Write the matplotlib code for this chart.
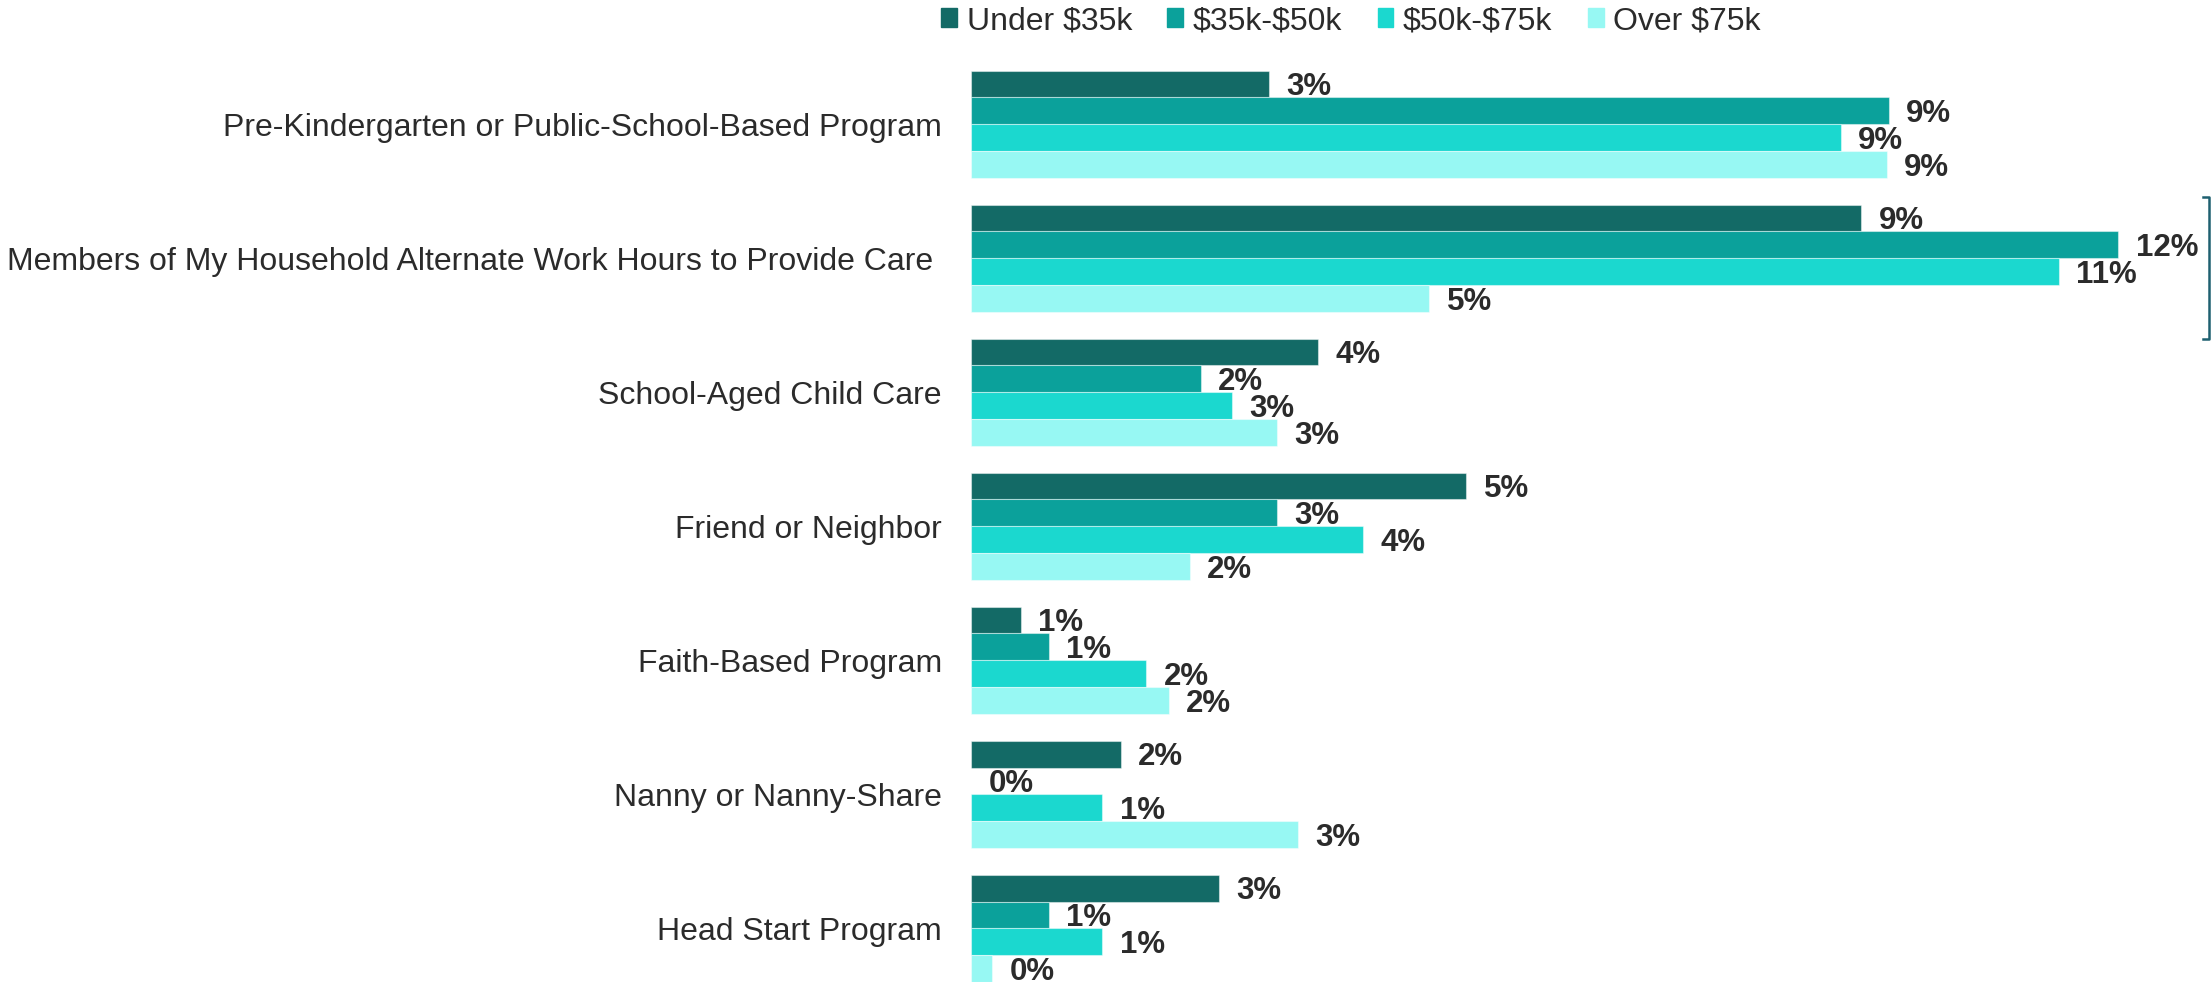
import matplotlib
matplotlib.use("Agg")
import matplotlib.pyplot as plt
from matplotlib.lines import Line2D
import numpy as np

categories = [
    "Pre-Kindergarten or Public-School-Based Program",
    "Members of My Household Alternate Work Hours to Provide Care ",
    "School-Aged Child Care",
    "Friend or Neighbor",
    "Faith-Based Program",
    "Nanny or Nanny-Share",
    "Head Start Program",
]
series_names = ["Under $35k", "$35k-$50k", "$50k-$75k", "Over $75k"]
under_35k = [3.06, 9.15, 3.57, 5.09, 0.51, 1.54, 2.55]
k35_50k = [9.43, 11.79, 2.36, 3.14, 0.80, 0.00, 0.80]
k50_75k = [8.94, 11.18, 2.68, 4.03, 1.80, 1.35, 1.35]
over_75k = [9.41, 4.71, 3.14, 2.25, 2.03, 3.36, 0.22]
series_values = [under_35k, k35_50k, k50_75k, over_75k]
colors = ["#136A66", "#0BA19B", "#1BD8CF", "#97F8F3"]

plt.rcParams['font.family'] = ['Liberation Sans', 'DejaVu Sans']
W, H = 2212, 982
fig = plt.figure(figsize=(W / 100, H / 100), dpi=100)

ax_left = 971
px_per_unit = 97.3
top_px = 70.5
ax = fig.add_axes([ax_left / W, 0, (W - ax_left) / W, (H - top_px) / H])
ax.set_xlim(0, (W - ax_left) / px_per_unit)
ax.set_ylim(6.4, -0.4)

y = np.arange(len(categories))
bh = 0.2
offsets = [-0.3, -0.1, 0.1, 0.3]
text_color = "#2B2B2B"
for vals, off, col, name in zip(series_values, offsets, colors, series_names):
    ax.barh(y + off, vals, height=bh, color=col, label=name,
            edgecolor=(1, 1, 1, 0.45), linewidth=0.8)
    for yi, v in zip(y, vals):
        ax.annotate(f"{round(v):.0f}%", xy=(v, yi + off + 0.024), xytext=(12.5, 0),
                    textcoords="offset points", va="center", ha="left",
                    fontsize=22.5, fontweight="bold", color=text_color,
                    annotation_clip=False)

ax.set_yticks(y)
ax.set_yticklabels(categories, fontsize=23, color=text_color)
ax.tick_params(axis="y", length=0, pad=21)
ax.set_xticks([])
for s in ax.spines.values():
    s.set_visible(False)

handles = [plt.Rectangle((0, 0), 1, 1, color=c) for c in colors]
legend_labels = [n.replace("$", r"\$") for n in series_names]
fig.legend(handles, legend_labels, loc="center", bbox_to_anchor=(1351 / W, 1 - 21 / H),
           ncol=4, frameon=False, fontsize=23, handlelength=0.5, handleheight=0.55,
           handletextpad=0.3, columnspacing=1.1, borderpad=0, labelcolor=text_color)

# bracket on the right edge
bc = "#1E6070"
def fx(px):
    return px / W
def fy(py):
    return 1 - py / H
fig.add_artist(Line2D([fx(2203), fx(2209), fx(2209), fx(2203)],
                      [fy(197), fy(197), fy(339), fy(339)],
                      color=bc, linewidth=1.8, transform=fig.transFigure))

fig.savefig("out.png", dpi=100)
